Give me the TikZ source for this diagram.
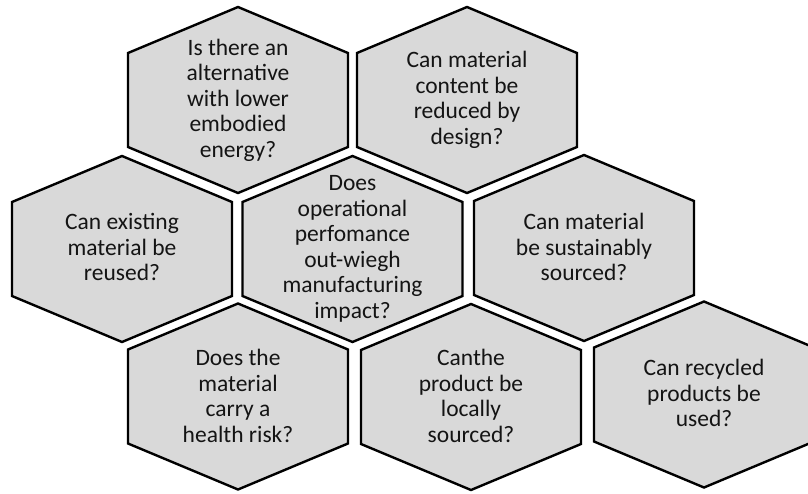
\documentclass[tikz,border=0pt]{standalone}
\usepackage{fontspec}
\setmainfont{Carlito}
\definecolor{cellgray}{RGB}{217,217,217}
\definecolor{inkblack}{RGB}{20,20,20}
% flattened hexagon centred on (#1,#2): pointed top and bottom, vertical sides
\newcommand\hexoutline[2]{%
  (#1,#2-93) -- (#1+110,#2-47) -- (#1+110,#2+47) -- (#1,#2+93)
  -- (#1-110,#2+47) -- (#1-110,#2-47) -- cycle}
\begin{document}
\begin{tikzpicture}[x=1pt,y=-1pt,
  hexcell/.style={fill=cellgray,draw=black,line width=2.4pt,line join=miter},
  hexlabel/.style={align=center,text=inkblack,inner sep=0pt,
    font=\fontsize{23.5}{25.5}\selectfont}]
\useasboundingbox (0,0) rectangle (808,493);
\clip (0,0) rectangle (808,493);

% top row
\draw[hexcell] \hexoutline{238}{100};
\node[hexlabel] (alt) at (238,100) {Is there an\\alternative\\with lower\\embodied\\energy?};
\draw[hexcell] \hexoutline{467}{100};
\node[hexlabel] (reduce) at (467,100) {Can material\\content be\\reduced by\\design?};

% middle row
\draw[hexcell] \hexoutline{122}{249};
\node[hexlabel] (reuse) at (122,247) {Can existing\\material be\\reused?};
\draw[hexcell] \hexoutline{352.5}{249};
\node[hexlabel] (oper) at (352.5,249) {Does\\operational\\perfomance\\out-wiegh\\manufacturing\\impact?};
\draw[hexcell] \hexoutline{584}{248};
\node[hexlabel] (sustain) at (584,247) {Can material\\be sustainably\\sourced?};

% bottom row
\draw[hexcell] \hexoutline{238}{396.5};
\node[hexlabel] (health) at (238,396) {Does the\\material\\carry a\\health risk?};
\draw[hexcell] \hexoutline{471}{397};
\node[hexlabel] (local) at (471,396) {Canthe\\product be\\locally\\sourced?};
\draw[hexcell] \hexoutline{704}{394.5};
\node[hexlabel] (recycle) at (704,393) {Can recycled\\products be\\used?};
\end{tikzpicture}
\end{document}
